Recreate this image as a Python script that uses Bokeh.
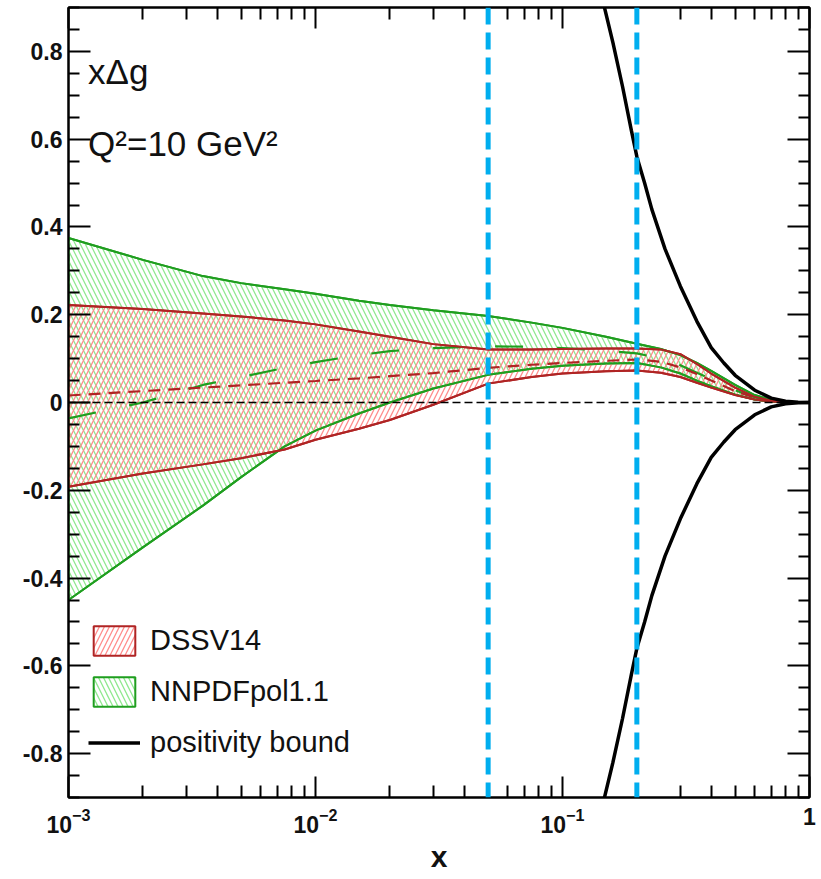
from bokeh.plotting import figure
from bokeh.models import (Range1d, FixedTicker, LinearAxis, LogAxis, Label, Span,
                          Legend, LegendItem, LogTickFormatter, LogScale)
from bokeh.embed import file_html
from bokeh.resources import INLINE

# ---------------- data ----------------
x_grid = [0.001, 0.002, 0.0035, 0.005, 0.0075, 0.01, 0.015, 0.02, 0.03, 0.05, 0.075, 0.1,
          0.15, 0.2, 0.25, 0.3, 0.35, 0.4, 0.5, 0.6, 0.7, 0.8, 0.9, 1.0]

nnpdf_up = [0.375, 0.325, 0.288, 0.272, 0.258, 0.248, 0.232, 0.222, 0.21, 0.197, 0.182, 0.17,
            0.15, 0.134, 0.122, 0.108, 0.09, 0.072, 0.04, 0.017, 0.006, 0.002, 0.0005, 0.0]
nnpdf_lo = [-0.45, -0.33, -0.235, -0.17, -0.10, -0.064, -0.025, 0.0, 0.032, 0.063, 0.077, 0.084,
            0.089, 0.09, 0.08, 0.066, 0.05, 0.037, 0.018, 0.007, 0.002, 0.0005, 0.0, 0.0]
nnpdf_cv = [-0.036, 0.0, 0.04, 0.058, 0.079, 0.092, 0.108, 0.117, 0.124, 0.128, 0.127, 0.124,
            0.118, 0.112, 0.1, 0.085, 0.068, 0.053, 0.028, 0.012, 0.004, 0.001, 0.0, 0.0]

dssv_up = [0.222, 0.213, 0.203, 0.196, 0.187, 0.178, 0.162, 0.15, 0.133, 0.121, 0.121, 0.122,
           0.123, 0.123, 0.121, 0.11, 0.088, 0.066, 0.034, 0.013, 0.004, 0.001, 0.0, 0.0]
dssv_lo = [-0.192, -0.162, -0.141, -0.127, -0.107, -0.085, -0.06, -0.04, -0.005, 0.043, 0.058, 0.066,
           0.071, 0.073, 0.068, 0.058, 0.045, 0.034, 0.017, 0.007, 0.002, 0.0005, 0.0, 0.0]
dssv_cv = [0.016, 0.026, 0.034, 0.039, 0.045, 0.049, 0.055, 0.06, 0.067, 0.079, 0.086, 0.09,
           0.095, 0.098, 0.093, 0.08, 0.065, 0.05, 0.026, 0.011, 0.003, 0.001, 0.0, 0.0]

pos_x = [0.145, 0.16, 0.175, 0.19, 0.2, 0.215, 0.23, 0.26, 0.3, 0.35, 0.4, 0.45, 0.5,
         0.6, 0.7, 0.8, 0.9, 1.0]
pos_y = [0.92, 0.82, 0.72, 0.62, 0.56, 0.5, 0.44, 0.35, 0.265, 0.185, 0.125, 0.09, 0.062,
         0.028, 0.01, 0.003, 0.0005, 0.0]

x_cuts = [0.05, 0.2]

y_major = [-0.8, -0.6, -0.4, -0.2, 0, 0.2, 0.4, 0.6, 0.8]
y_labels = ["-0.8", "-0.6", "-0.4", "-0.2", "0", "0.2", "0.4", "0.6", "0.8"]
x_major = [0.001, 0.01, 0.1, 1.0]

legend_labels = ["DSSV14", "NNPDFpol1.1", "positivity bound"]
title_text = "x\u0394g"
scale_text = "Q\u00b2=10 GeV\u00b2"

# ---------------- styles ----------------
GREEN = "#1f9e1f"
GREEN_H = "#8ee88e"
RED = "#b02424"
RED_H = "#ff8c8c"
BLUE = "#00aeef"
FONT = "Liberation Sans"
INK = "#111111"

p = figure(width=821, height=879, x_axis_type=None, y_axis_type=None,
           x_range=Range1d(1e-3, 1.0), y_range=Range1d(-0.9, 0.9),
           output_backend="svg", toolbar_location=None,
           min_border_left=68, min_border_right=12, min_border_top=7, min_border_bottom=82)
p.x_scale = LogScale()
p.grid.visible = False
p.outline_line_color = "black"
p.outline_line_width = 2
p.background_fill_color = "white"
p.border_fill_color = "white"

# tickers
x_minor = []
for dec in [0.001, 0.01, 0.1]:
    for k in range(2, 10):
        x_minor.append(dec * k)
y_minor = [round(-0.9 + 0.05 * i, 2) for i in range(37)]
y_minor = [v for v in y_minor if abs(v / 0.2 - round(v / 0.2)) > 1e-6]
xt = FixedTicker(ticks=x_major, minor_ticks=x_minor)
yt = FixedTicker(ticks=y_major, minor_ticks=y_minor)

def style_axis(ax, labels=True):
    ax.axis_line_color = "black"
    ax.axis_line_width = 2
    ax.major_tick_line_width = 2
    ax.minor_tick_line_width = 2
    ax.major_tick_out = 0
    ax.minor_tick_out = 0
    ax.major_label_text_color = INK
    if not labels:
        ax.major_label_text_font_size = "2px"
        ax.major_label_text_alpha = 0
        ax.major_label_standoff = 0

xb = LogAxis(ticker=xt, formatter=LogTickFormatter())
style_axis(xb)
xb.major_tick_in = 21
xb.minor_tick_in = 12
xb.major_label_overrides = {1.0: "1"}
xb.major_label_text_font = FONT
xb.major_label_text_font_style = "bold"
xb.major_label_text_font_size = "23px"
xb.major_label_standoff = 10
xb.axis_label = "x"
xb.axis_label_text_font = FONT
xb.axis_label_text_font_style = "bold"
xb.axis_label_text_font_size = "30px"
xb.axis_label_text_color = INK
xb.axis_label_standoff = 4
p.add_layout(xb, "below")

xa = LogAxis(ticker=xt, formatter=LogTickFormatter())
xa.major_label_overrides = {v: "" for v in x_major}
style_axis(xa, labels=False)
xa.major_tick_in = 21
xa.minor_tick_in = 12
p.add_layout(xa, "above")

yl = LinearAxis(ticker=yt)
style_axis(yl)
yl.major_tick_in = 22
yl.minor_tick_in = 11
yl.major_label_overrides = {v: s for v, s in zip(y_major, y_labels)}
yl.major_label_text_font = FONT
yl.major_label_text_font_style = "bold"
yl.major_label_text_font_size = "23px"
yl.major_label_standoff = 6
p.add_layout(yl, "left")

yr = LinearAxis(ticker=yt)
style_axis(yr, labels=False)
yr.major_tick_in = 22
yr.minor_tick_in = 11
p.add_layout(yr, "right")

# bands as closed polygons built from the arrays
def band(lo, up):
    return x_grid + x_grid[::-1], up + lo[::-1]

gx, gy = band(nnpdf_lo, nnpdf_up)
r_nn = p.patch(gx, gy, fill_alpha=0, line_color=GREEN, line_width=2,
               hatch_pattern="left_diagonal_line", hatch_color=GREEN_H,
               hatch_scale=10, hatch_weight=1.3, hatch_alpha=1.0)
rx, ry = band(dssv_lo, dssv_up)
r_ds = p.patch(rx, ry, fill_alpha=0, line_color=RED, line_width=2,
               hatch_pattern="right_diagonal_line", hatch_color=RED_H,
               hatch_scale=10, hatch_weight=1.3, hatch_alpha=1.0)

# zero line
p.add_layout(Span(location=0, dimension="width", line_color="black",
                  line_width=1.5, line_dash="8 4"))

# central values
p.line(x_grid, nnpdf_cv, line_color=GREEN, line_width=2.2, line_dash="28 34")
p.line(x_grid, dssv_cv, line_color=RED, line_width=2.2, line_dash="12 8")
# re-draw band edges on top
p.line(x_grid, nnpdf_up, line_color=GREEN, line_width=2)
p.line(x_grid, nnpdf_lo, line_color=GREEN, line_width=2)
p.line(x_grid, dssv_up, line_color=RED, line_width=2)
p.line(x_grid, dssv_lo, line_color=RED, line_width=2)

# positivity bound
r_pos = p.line(pos_x, pos_y, line_color="black", line_width=3.5)
p.line(pos_x, [-v for v in pos_y], line_color="black", line_width=3.5)

# cut lines
for xc in x_cuts:
    p.add_layout(Span(location=xc, dimension="height", line_color=BLUE,
                      line_width=5, line_dash="17 8"))

# texts
p.add_layout(Label(x=1.2e-3, y=0.755, text=title_text, text_font=FONT,
                   text_font_size="35px", text_baseline="middle", text_color=INK))
p.add_layout(Label(x=1.2e-3, y=0.59, text=scale_text, text_font=FONT,
                   text_font_size="35px", text_baseline="middle", text_color=INK))

legend = Legend(items=[LegendItem(label=legend_labels[0], renderers=[r_ds]),
                       LegendItem(label=legend_labels[1], renderers=[r_nn]),
                       LegendItem(label=legend_labels[2], renderers=[r_pos])],
                location=(20, 36), padding=0, margin=0, spacing=14,
                glyph_width=52, glyph_height=37, label_standoff=10,
                label_text_font=FONT, label_text_font_size="29px",
                label_text_color=INK,
                background_fill_alpha=0, border_line_alpha=0)
p.add_layout(legend)

open("out.html", "w").write(file_html(p, INLINE))
